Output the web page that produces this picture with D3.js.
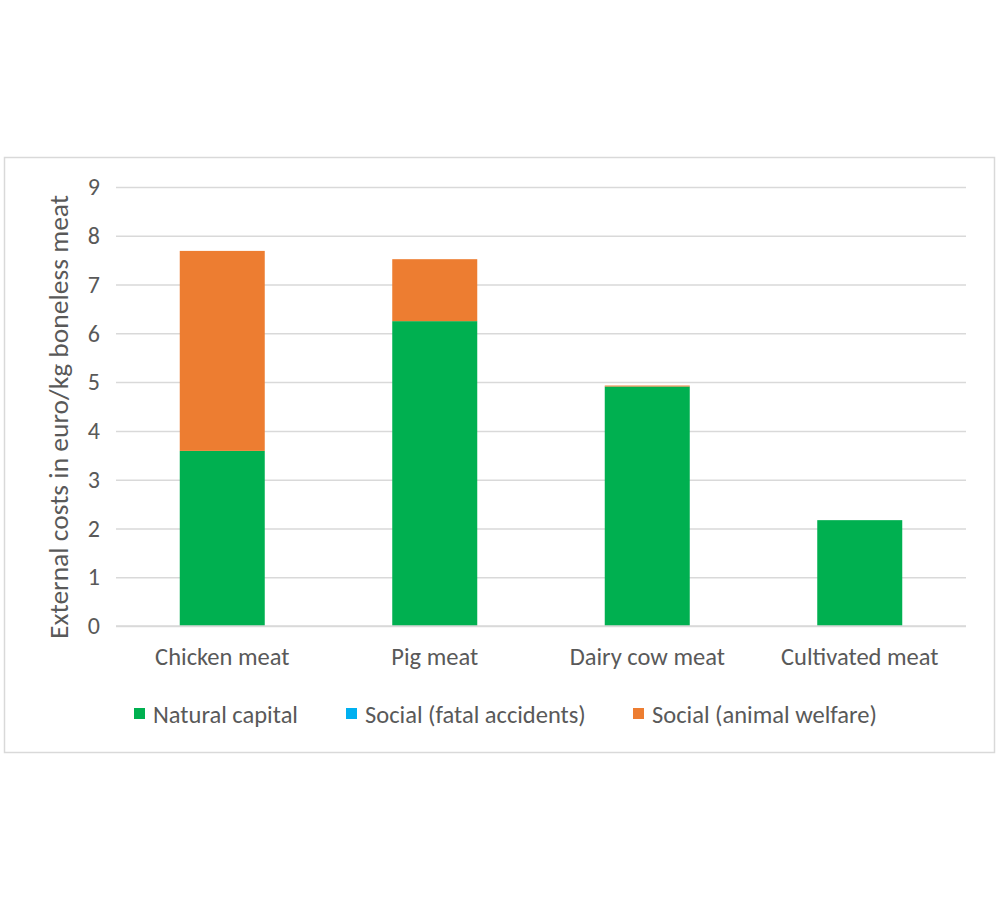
<!DOCTYPE html>
<html><head><meta charset="utf-8">
<script src="https://cdn.jsdelivr.net/npm/d3@7"></script>
<style>body{margin:0;background:#fff;} svg{display:block;}</style>
</head><body>
<script>
const categories = ["Chicken meat", "Pig meat", "Dairy cow meat", "Cultivated meat"];
const seriesNames = ["Natural capital", "Social (fatal accidents)", "Social (animal welfare)"];
const naturalCapital = [3.59, 6.25, 4.91, 2.17];
const fatalAccidents = [0.0, 0.0, 0.0, 0.0];
const animalWelfare = [4.10, 1.27, 0.02, 0.0];
const yTicks = [0, 1, 2, 3, 4, 5, 6, 7, 8, 9];
const colors = ["#00B050", "#00B0F0", "#ED7D31"];

const W = 1000, H = 900;
const svg = d3.select("body").append("svg").attr("width", W).attr("height", H);
const font = "Carlito, 'Open Sans', 'Liberation Sans', sans-serif";

svg.append("rect").attr("x", 4.5).attr("y", 157.5).attr("width", 990).attr("height", 595)
  .attr("fill", "#fff").attr("stroke", "#d9d9d9").attr("stroke-width", 1.5);

const m = {left: 116, right: 966, top: 187, bottom: 626};
const x = d3.scaleBand().domain(categories).range([m.left, m.right]).paddingInner(0.6).paddingOuter(0.3);
const y = d3.scaleLinear().domain([0, 9]).range([m.bottom, m.top]);

// gridlines
const yAxis = d3.axisLeft(y).tickValues(yTicks).tickSize(-(m.right - m.left)).tickPadding(16);
const gy = svg.append("g").attr("transform", `translate(${m.left},0)`).call(yAxis);
gy.select(".domain").remove();
gy.selectAll(".tick line").attr("stroke", "#d9d9d9").attr("stroke-width", 1.5);
gy.selectAll(".tick text").attr("fill", "#595959").style("font-family", font).style("font-size", "24px");

const data = categories.map((c, i) => ({cat: c, s0: naturalCapital[i], s1: fatalAccidents[i], s2: animalWelfare[i]}));
const stack = d3.stack().keys(["s0", "s1", "s2"])(data);

svg.append("g").selectAll("g").data(stack).join("g").attr("fill", (d, i) => colors[i])
  .selectAll("rect").data(d => d).join("rect")
  .attr("x", d => x(d.data.cat))
  .attr("width", x.bandwidth())
  .attr("y", d => y(d[1]))
  .attr("height", d => Math.max(0, y(d[0]) - y(d[1])));

// x axis
const xAxis = d3.axisBottom(x).tickSize(0).tickPadding(22);
const gx = svg.append("g").attr("transform", `translate(0,${m.bottom})`).call(xAxis);
gx.select(".domain").attr("stroke", "#d9d9d9").attr("stroke-width", 1.5)
  .attr("d", `M${m.left},0H${m.right}`);
gx.selectAll(".tick text").attr("fill", "#595959").style("font-family", font).style("font-size", "24.5px");

// y title
svg.append("text").attr("transform", `translate(68,${417}) rotate(-90)`)
  .attr("text-anchor", "middle").attr("fill", "#595959")
  .style("font-family", font).style("font-size", "27.5px")
  .text("External costs in euro/kg boneless meat");

// legend
const legX = [134, 346, 633];
const leg = svg.append("g");
seriesNames.forEach((n, i) => {
  leg.append("rect").attr("x", legX[i]).attr("y", 708).attr("width", 11).attr("height", 11).attr("fill", colors[i]);
  leg.append("text").attr("x", legX[i] + 19).attr("y", 722.5).attr("fill", "#595959")
    .style("font-family", font).style("font-size", "24.5px").text(n);
});
</script>
</body></html>
